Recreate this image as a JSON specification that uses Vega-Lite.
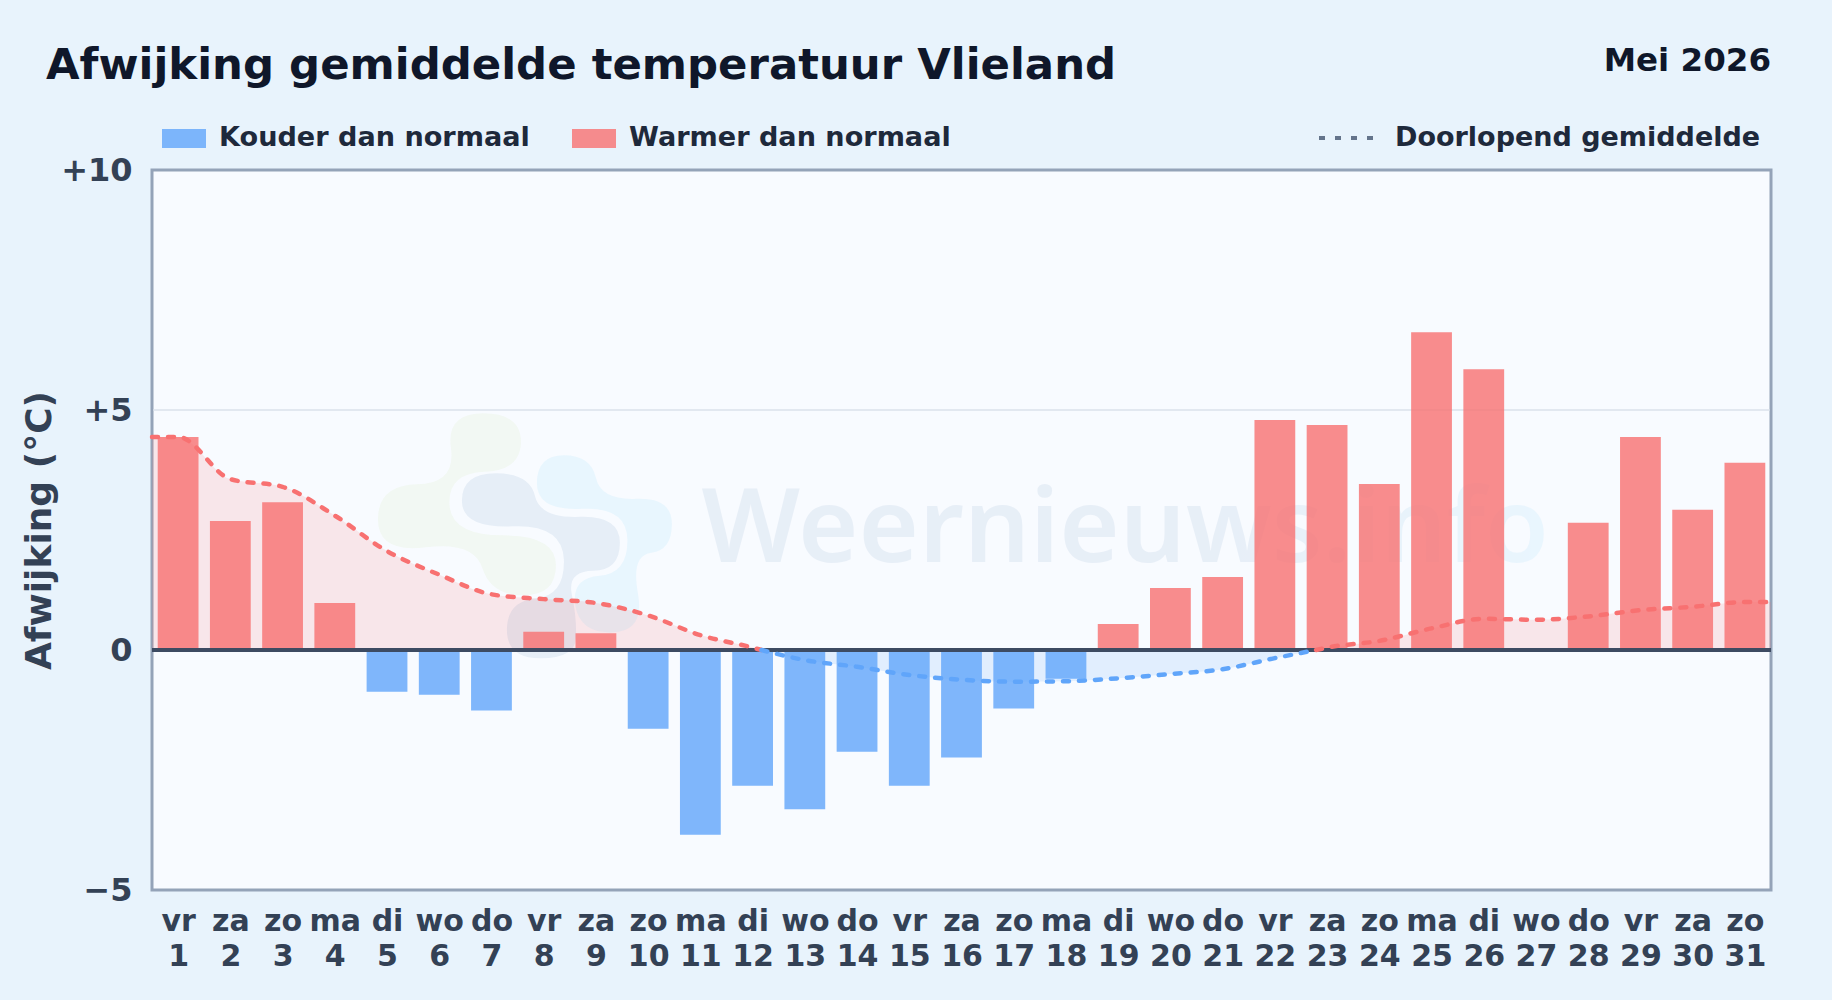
{
"$schema":"https://vega.github.io/schema/vega-lite/v6.json",
"width":1619,"height":720,
"autosize":{"type":"none"},
"padding":{"left":152,"top":170,"right":61,"bottom":110},
"background":"#e8f3fc",
"font":"DejaVu Sans",
"view":{"fill":"#f8fbff","stroke":"#94a3b8","strokeWidth":3},
"title":{"text":"Afwijking gemiddelde temperatuur Vlieland","anchor":"start","frame":"group","dx":-106,"offset":-43,"fontSize":43.4,"fontWeight":"bold","color":"#0f172a","font":"DejaVu Sans"},
"datasets":{
"bars":[
{"day":1,"value":4.44,"soort":"Warmer dan normaal"},{"day":2,"value":2.69,"soort":"Warmer dan normaal"},{"day":3,"value":3.08,"soort":"Warmer dan normaal"},{"day":4,"value":0.98,"soort":"Warmer dan normaal"},{"day":5,"value":-0.87,"soort":"Kouder dan normaal"},{"day":6,"value":-0.93,"soort":"Kouder dan normaal"},{"day":7,"value":-1.26,"soort":"Kouder dan normaal"},{"day":8,"value":0.38,"soort":"Warmer dan normaal"},{"day":9,"value":0.35,"soort":"Warmer dan normaal"},{"day":10,"value":-1.64,"soort":"Kouder dan normaal"},{"day":11,"value":-3.85,"soort":"Kouder dan normaal"},{"day":12,"value":-2.83,"soort":"Kouder dan normaal"},{"day":13,"value":-3.32,"soort":"Kouder dan normaal"},{"day":14,"value":-2.12,"soort":"Kouder dan normaal"},{"day":15,"value":-2.83,"soort":"Kouder dan normaal"},{"day":16,"value":-2.24,"soort":"Kouder dan normaal"},{"day":17,"value":-1.22,"soort":"Kouder dan normaal"},{"day":18,"value":-0.6,"soort":"Kouder dan normaal"},{"day":19,"value":0.54,"soort":"Warmer dan normaal"},{"day":20,"value":1.29,"soort":"Warmer dan normaal"},{"day":21,"value":1.52,"soort":"Warmer dan normaal"},{"day":22,"value":4.79,"soort":"Warmer dan normaal"},{"day":23,"value":4.69,"soort":"Warmer dan normaal"},{"day":24,"value":3.46,"soort":"Warmer dan normaal"},{"day":25,"value":6.62,"soort":"Warmer dan normaal"},{"day":26,"value":5.85,"soort":"Warmer dan normaal"},{"day":27,"value":0,"soort":"Warmer dan normaal"},{"day":28,"value":2.65,"soort":"Warmer dan normaal"},{"day":29,"value":4.44,"soort":"Warmer dan normaal"},{"day":30,"value":2.92,"soort":"Warmer dan normaal"},{"day":31,"value":3.9,"soort":"Warmer dan normaal"}
],
"warm":[
{"day":0.5,"value":4.44,"seg":"a","lijn":"Doorlopend gemiddelde"},{"day":1,"value":4.44,"seg":"a","lijn":"Doorlopend gemiddelde"},{"day":2,"value":3.56,"seg":"a","lijn":"Doorlopend gemiddelde"},{"day":3,"value":3.4,"seg":"a","lijn":"Doorlopend gemiddelde"},{"day":4,"value":2.8,"seg":"a","lijn":"Doorlopend gemiddelde"},{"day":5,"value":2.06,"seg":"a","lijn":"Doorlopend gemiddelde"},{"day":6,"value":1.57,"seg":"a","lijn":"Doorlopend gemiddelde"},{"day":7,"value":1.16,"seg":"a","lijn":"Doorlopend gemiddelde"},{"day":8,"value":1.06,"seg":"a","lijn":"Doorlopend gemiddelde"},{"day":9,"value":0.98,"seg":"a","lijn":"Doorlopend gemiddelde"},{"day":10,"value":0.72,"seg":"a","lijn":"Doorlopend gemiddelde"},{"day":11,"value":0.31,"seg":"a","lijn":"Doorlopend gemiddelde"},{"day":12,"value":0.05,"seg":"a","lijn":"Doorlopend gemiddelde"},{"day":12.17,"value":0,"seg":"a","lijn":"Doorlopend gemiddelde"},
{"day":22.79,"value":0,"seg":"c","lijn":"Doorlopend gemiddelde"},{"day":23,"value":0.05,"seg":"c","lijn":"Doorlopend gemiddelde"},{"day":24,"value":0.19,"seg":"c","lijn":"Doorlopend gemiddelde"},{"day":25,"value":0.45,"seg":"c","lijn":"Doorlopend gemiddelde"},{"day":26,"value":0.65,"seg":"c","lijn":"Doorlopend gemiddelde"},{"day":27,"value":0.63,"seg":"c","lijn":"Doorlopend gemiddelde"},{"day":28,"value":0.7,"seg":"c","lijn":"Doorlopend gemiddelde"},{"day":29,"value":0.83,"seg":"c","lijn":"Doorlopend gemiddelde"},{"day":30,"value":0.9,"seg":"c","lijn":"Doorlopend gemiddelde"},{"day":31,"value":1.0,"seg":"c","lijn":"Doorlopend gemiddelde"},{"day":31.5,"value":1.0,"seg":"c","lijn":"Doorlopend gemiddelde"}
],
"koud":[
{"day":12.17,"value":0,"seg":"b","lijn":"Doorlopend gemiddelde"},{"day":13,"value":-0.21,"seg":"b","lijn":"Doorlopend gemiddelde"},{"day":14,"value":-0.35,"seg":"b","lijn":"Doorlopend gemiddelde"},{"day":15,"value":-0.52,"seg":"b","lijn":"Doorlopend gemiddelde"},{"day":16,"value":-0.62,"seg":"b","lijn":"Doorlopend gemiddelde"},{"day":17,"value":-0.66,"seg":"b","lijn":"Doorlopend gemiddelde"},{"day":18,"value":-0.65,"seg":"b","lijn":"Doorlopend gemiddelde"},{"day":19,"value":-0.59,"seg":"b","lijn":"Doorlopend gemiddelde"},{"day":20,"value":-0.5,"seg":"b","lijn":"Doorlopend gemiddelde"},{"day":21,"value":-0.4,"seg":"b","lijn":"Doorlopend gemiddelde"},{"day":22,"value":-0.17,"seg":"b","lijn":"Doorlopend gemiddelde"},{"day":22.79,"value":0,"seg":"b","lijn":"Doorlopend gemiddelde"}
]
},
"encoding":{
"x":{"field":"day","type":"quantitative","title":null,"scale":{"domain":[0.5,31.5],"nice":false,"zero":false,"padding":0},
"axis":{"values":[1,2,3,4,5,6,7,8,9,10,11,12,13,14,15,16,17,18,19,20,21,22,23,24,25,26,27,28,29,30,31],"labelExpr":"[['vr','za','zo','ma','di','wo','do'][(datum.value-1)%7], ''+datum.value]","grid":false,"ticks":false,"domain":false,"labelFontSize":30,"labelFontWeight":"bold","labelColor":"#334155","labelPadding":16,"labelOverlap":false,"labelFlush":false,"labelBound":false,"labelLineHeight":35,"labelFont":"DejaVu Sans"}},
"y":{"field":"value","type":"quantitative","scale":{"domain":[-5,10],"nice":false},
"axis":{"values":[-5,0,5,10],"title":"Afwijking (°C)","titleFontSize":36,"titleFontWeight":"bold","titleColor":"#334155","titleFont":"DejaVu Sans","titlePadding":2,"labelExpr":"datum.value>0?'+'+datum.value:(datum.value<0?'−'+abs(datum.value):'0')","grid":false,"ticks":false,"domain":false,"labelFontSize":32,"labelFontWeight":"bold","labelColor":"#334155","labelPadding":20,"labelOverlap":false,"labelFlush":false,"labelBound":false,"labelFont":"DejaVu Sans"}}
},
"layer":[
{"data":{"values":[{"day":0.53,"eind":31.47,"value":5}]},"mark":{"type":"rule","color":"#e2e8f0","strokeWidth":2},"encoding":{"x2":{"field":"eind"}}},
{"data":{"name":"warm"},"mark":{"type":"area","interpolate":"monotone","color":"#f87171","opacity":0.15},"encoding":{"y2":{"datum":0},"detail":{"field":"seg"}}},
{"data":{"name":"koud"},"mark":{"type":"area","interpolate":"monotone","color":"#60a5fa","opacity":0.15},"encoding":{"y2":{"datum":0},"detail":{"field":"seg"}}},
{"data":{"values":[{"day":11.02,"value":2.48,"label":"Weernieuws.info"}]},"mark":{"type":"text","align":"left","baseline":"middle","font":"Noto Sans","fontWeight":600,"fontSize":103.5,"color":{"gradient":"linear","x1":0,"x2":1,"y1":0,"y2":0,"stops":[{"offset":0,"color":"#1e5a9e"},{"offset":0.6,"color":"#1e5a9e"},{"offset":1,"color":"#38bdf8"}]},"opacity":0.07},"encoding":{"text":{"field":"label"}}},
{"data":{"values":[{"day":7.66,"value":2.43,"vorm":"groen"}]},"mark":{"type":"point","filled":true,"size":40000,"color":"#84cc16","opacity":0.05,"shape":"M-.425,-1.2Q-.05,-1.2,-.05,-.915Q-.05,-.63,-.415,-.615Q-.78,-.6,-.765,-.29Q-.75,.02,-.225,.02Q.3,.02,.3,.32Q.3,.62,-.025,.62Q-.35,.62,-.435,.35Q-.52,.08,-1,.14Q-1.48,.2,-1.48,-.14Q-1.48,-.48,-1.09,-.49Q-.7,-.5,-.75,-.85Q-.8,-1.2,-.425,-1.2Z"}},
{"data":{"values":[{"day":7.64,"value":2.43,"vorm":"donkerblauw"}]},"mark":{"type":"point","filled":true,"size":40000,"color":"#1e5a9e","opacity":0.08,"shape":"M-.29,-.6Q.05,-.6,.1,-.375Q.15,-.15,.55,-.165Q.95,-.18,.95,.095Q.95,.37,.685,.375Q.42,.38,.47,.615Q.52,.85,.51,1.05Q.5,1.25,.16,1.25Q-.18,1.25,-.18,.965Q-.18,.68,.11,.65Q.4,.62,.39,.265Q.38,-.09,-.125,-.07Q-.63,-.05,-.63,-.325Q-.63,-.6,-.29,-.6Z"}},
{"data":{"values":[{"day":7.64,"value":2.43,"vorm":"lichtblauw"}]},"mark":{"type":"point","filled":true,"size":40000,"color":"#38bdf8","opacity":0.08,"shape":"M.39,-.78Q.66,-.78,.71,-.555Q.76,-.33,1.115,-.345Q1.47,-.36,1.47,-.095Q1.47,.17,1.265,.195Q1.06,.22,1.13,.6Q1.2,.98,.875,.99Q.55,1,.505,.725Q.46,.45,.745,.425Q1.03,.4,1.025,.065Q1.02,-.27,.57,-.245Q.12,-.22,.12,-.5Q.12,-.78,.39,-.78Z"}},
{"data":{"name":"bars"},"mark":{"type":"bar","width":40.8,"opacity":0.8},"encoding":{"fill":{"field":"soort","type":"nominal","scale":{"domain":["Kouder dan normaal","Warmer dan normaal"],"range":["#60a5fa","#f87171"]},"legend":{"title":null,"orient":"none","legendX":10,"legendY":-54,"direction":"horizontal","columns":2,"columnPadding":42,"symbolType":"M-1,-.43H1V.43H-1Z","symbolSize":1936,"labelFontSize":27.1,"labelFontWeight":"bold","labelColor":"#1e293b","labelFont":"DejaVu Sans","labelOffset":13,"labelLimit":600,"symbolStrokeWidth":0}}}},
{"data":{"values":[{"day":0.5,"eind":31.5,"value":0}]},"mark":{"type":"rule","color":"#3d4b62","strokeWidth":4},"encoding":{"x2":{"field":"eind"}}},
{"data":{"name":"warm"},"mark":{"type":"line","interpolate":"monotone","strokeWidth":4.5,"strokeCap":"round"},"encoding":{"stroke":{"field":"seg","type":"nominal","scale":{"domain":["a","b","c"],"range":["#f87171","#60a5fa","#f87171"]},"legend":null},"strokeDash":{"field":"lijn","type":"nominal","scale":{"domain":["Doorlopend gemiddelde"],"range":[[6,10]]},"legend":{"title":null,"orient":"none","legendX":1165,"legendY":-62,"symbolType":"stroke","symbolSize":3136,"symbolStrokeColor":"#64748b","symbolStrokeWidth":4,"labelFontSize":27,"labelFontWeight":"bold","labelColor":"#1e293b","labelFont":"DejaVu Sans","labelOffset":18,"labelLimit":600}}}},
{"data":{"name":"koud"},"mark":{"type":"line","interpolate":"monotone","strokeWidth":4.5,"strokeCap":"round"},"encoding":{"stroke":{"field":"seg","type":"nominal"},"strokeDash":{"field":"lijn","type":"nominal"}}},
{"data":{"values":[{"day":31.5,"value":12.27,"label":"Mei 2026"}]},"mark":{"type":"text","align":"right","baseline":"middle","font":"DejaVu Sans","fontSize":32.5,"fontWeight":"bold","color":"#0f172a"},"encoding":{"text":{"field":"label"}}}
]
}
